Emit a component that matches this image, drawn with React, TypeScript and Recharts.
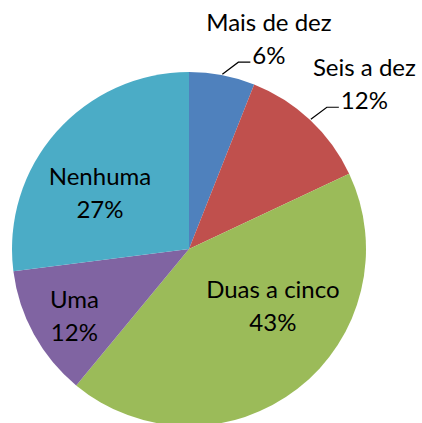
import { PieChart, Pie, Cell } from 'recharts';

const categories = ['Mais de dez', 'Seis a dez', 'Duas a cinco', 'Uma', 'Nenhuma'];
const shares = [6, 12, 43, 12, 27];
const sliceColors = ['#4F81BD', '#C0504D', '#9BBB59', '#8064A2', '#4BACC6'];

const chartData = categories.map((name, i) => ({ name, value: shares[i] }));

const FONT_SIZE = 24;
const FONT_FAMILY = 'Lato, "Open Sans", sans-serif';
const LINE_GAP = 33;
const RADIAN = Math.PI / 180;

// labels that sit inside the slice (Excel "best fit" placement)
const insidePlacement: Record<string, { r: number; shift: number }> = {
  'Duas a cinco': { r: 0.573, shift: 18 },
  Uma: { r: 0.75, shift: 1.5 },
  Nenhuma: { r: 0.593, shift: 9.4 },
};

let measureCtx: CanvasRenderingContext2D | null = null;
function textWidth(text: string) {
  if (!measureCtx) {
    measureCtx = document.createElement('canvas').getContext('2d');
  }
  if (!measureCtx) return text.length * FONT_SIZE * 0.55;
  measureCtx.font = `${FONT_SIZE}px ${FONT_FAMILY}`;
  return measureCtx.measureText(text).width;
}

const renderLabel = (props: any) => {
  const { cx, cy, midAngle, outerRadius, name, percent } = props;
  const pct = `${Math.round(percent * 100)}%`;
  const textStyle = { fontSize: FONT_SIZE, fontFamily: FONT_FAMILY, fill: '#000' };

  const place = insidePlacement[name];
  if (place) {
    const ang = (midAngle + place.shift) * RADIAN;
    const x = cx + outerRadius * place.r * Math.cos(ang);
    const yc = cy - outerRadius * place.r * Math.sin(ang);
    const b1 = yc - 8;
    return (
      <g key={name}>
        <text x={x} y={b1} textAnchor="middle" style={textStyle}>
          {name}
        </text>
        <text x={x} y={b1 + LINE_GAP} textAnchor="middle" style={textStyle}>
          {pct}
        </text>
      </g>
    );
  }

  // outside label with leader line
  const ang = midAngle * RADIAN;
  const sx = cx + (outerRadius + 1) * Math.cos(ang);
  const sy = cy - (outerRadius + 1) * Math.sin(ang);
  const ex = sx + 16;
  const ey = sy - 12;
  const hx = ex + 12;
  const w = textWidth(pct);
  const center = hx + 2 + w / 2;
  return (
    <g key={name}>
      <polyline points={`${sx},${sy} ${ex},${ey} ${hx},${ey}`} fill="none" stroke="#000" strokeWidth={1.2} />
      <text x={center} y={ey + 2} textAnchor="middle" style={textStyle}>
        {pct}
      </text>
      <text x={center} y={ey + 2 - LINE_GAP} textAnchor="middle" style={textStyle}>
        {name}
      </text>
    </g>
  );
};

export default function App() {
  return (
    <div style={{ position: 'absolute', left: 0, top: 0, width: 422, height: 423, background: '#fff', overflow: 'hidden' }}>
      <PieChart width={422} height={423} margin={{ top: 0, right: 0, bottom: 0, left: 0 }}>
        <Pie
          data={chartData}
          dataKey="value"
          nameKey="name"
          cx={189}
          cy={249}
          outerRadius={177}
          startAngle={90}
          endAngle={-270}
          stroke="none"
          label={renderLabel}
          labelLine={false}
          isAnimationActive={false}
        >
          {chartData.map((d, i) => (
            <Cell key={d.name} fill={sliceColors[i]} />
          ))}
        </Pie>
      </PieChart>
    </div>
  );
}
